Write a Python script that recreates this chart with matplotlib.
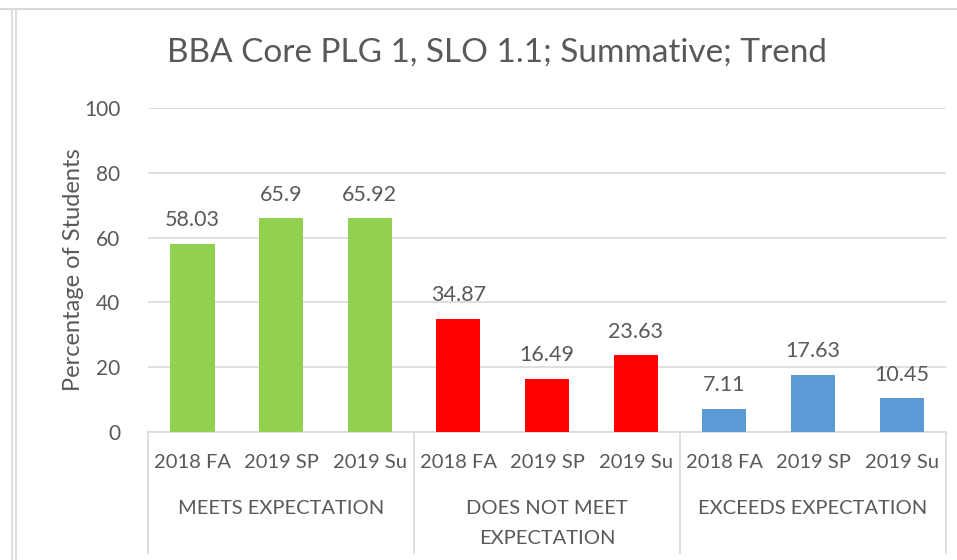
"""Excel-style grouped bar chart: BBA Core PLG 1, SLO 1.1 trend."""

import matplotlib

matplotlib.use("Agg")

import matplotlib.pyplot as plt
from matplotlib.lines import Line2D
import matplotlib.transforms as mtransforms

plt.rcParams["font.family"] = ["Lato", "DejaVu Sans"]

terms = ["2018 FA", "2019 SP", "2019 Su"]
groups = ["MEETS EXPECTATION", "DOES NOT MEET\nEXPECTATION", "EXCEEDS EXPECTATION"]
meets = [58.03, 65.9, 65.92]
does_not_meet = [34.87, 16.49, 23.63]
exceeds = [7.11, 17.63, 10.45]
group_colors = ["#92D050", "#FF0000", "#5B9BD5"]

TEXT = "#595959"
GRID = "#D9D9D9"


def main() -> None:
    W, H = 957, 560
    fig = plt.figure(figsize=(W / 100, H / 100), dpi=100)
    left, right, top, bottom = 148, 946, 108, 432
    ax = fig.add_axes([left / W, 1 - bottom / H, (right - left) / W, (bottom - top) / H])

    series = [meets, does_not_meet, exceeds]
    x = 0
    for vals, color in zip(series, group_colors):
        xs = list(range(x, x + len(vals)))
        bars = ax.bar(xs, vals, width=0.5, color=color, zorder=3)
        for b, v in zip(bars, vals):
            ax.annotate(f"{v:g}", (b.get_x() + b.get_width() / 2, v),
                        xytext=(0, 17), textcoords="offset points",
                        ha="center", va="center", fontsize=15.5, color=TEXT)
        x += len(vals)

    n = x
    ax.set_xlim(-0.5, n - 0.5)
    ax.set_ylim(0, 100)
    ax.set_yticks(range(0, 101, 20))
    ax.yaxis.grid(True, color=GRID, linewidth=1.2, zorder=0)
    ax.tick_params(axis="y", length=0, pad=20, labelsize=15, labelcolor=TEXT)
    ax.set_xticks([])
    for s in ["top", "right", "left"]:
        ax.spines[s].set_visible(False)
    ax.spines["bottom"].set_color(GRID)
    ax.spines["bottom"].set_linewidth(1.2)
    ax.set_ylabel("Percentage of Students", fontsize=17, color=TEXT, labelpad=0)

    # multi-level category axis
    trans = mtransforms.blended_transform_factory(ax.transData, ax.transAxes)

    def ax_y(py):
        return (bottom - py) / (bottom - top)

    for i in range(len(series) + 1):
        xb = i * 3 - 0.5
        ax.add_line(Line2D([xb, xb], [0, ax_y(553)], transform=trans, color=GRID,
                           linewidth=1.2, clip_on=False))
    for gi, g in enumerate(groups):
        for ti, t in enumerate(terms):
            ax.text(gi * 3 + ti, ax_y(463), t, transform=trans, ha="center", va="center",
                    fontsize=14.5, color=TEXT)
        for li, line in enumerate(g.split("\n")):
            ax.text(gi * 3 + 1, ax_y(508 + 30 * li), line, transform=trans,
                    ha="center", va="center", fontsize=14.5, color=TEXT)

    fig.text(497 / W, 1 - 53 / H, "BBA Core PLG 1, SLO 1.1; Summative; Trend",
             ha="center", va="center", fontsize=24, color=TEXT)

    # chart-area frame lines
    fig.add_artist(Line2D([0, 1], [1 - 9 / H, 1 - 9 / H], color=GRID, linewidth=1.5))
    for xv in (12, 16):
        fig.add_artist(Line2D([xv / W, xv / W], [0, 1 - 9 / H], color=GRID, linewidth=1.2))

    fig.savefig("out.png", dpi=100)
    plt.close(fig)


if __name__ == "__main__":
    main()
